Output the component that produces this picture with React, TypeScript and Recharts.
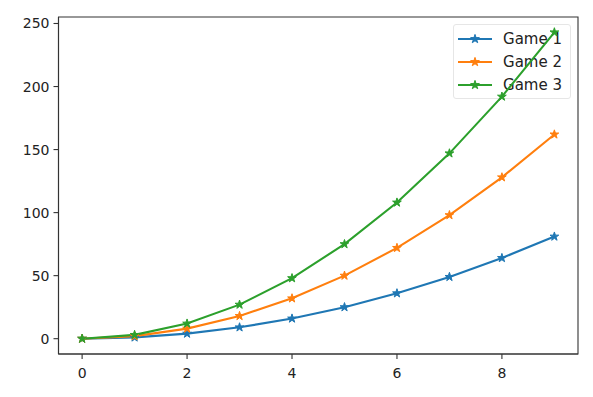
import React from 'react';
import { LineChart, Line, XAxis, YAxis, ReferenceArea } from 'recharts';

const xValues = [0, 1, 2, 3, 4, 5, 6, 7, 8, 9];
const game1 = [0, 1, 4, 9, 16, 25, 36, 49, 64, 81];
const game2 = [0, 2, 8, 18, 32, 50, 72, 98, 128, 162];
const game3 = [0, 3, 12, 27, 48, 75, 108, 147, 192, 243];

const xTicks = [0, 2, 4, 6, 8];
const yTicks = [0, 50, 100, 150, 200, 250];

const SERIES = [
  { key: 'g1', name: 'Game 1', color: '#1f77b4' },
  { key: 'g2', name: 'Game 2', color: '#ff7f0e' },
  { key: 'g3', name: 'Game 3', color: '#2ca02c' },
];

const data = xValues.map((x, i) => ({ x, g1: game1[i], g2: game2[i], g3: game3[i] }));

const X_DOMAIN: [number, number] = [-0.45, 9.45];
const Y_DOMAIN: [number, number] = [-12.15, 255.15];

const FONT = '"DejaVu Sans", sans-serif';
const AXIS = '#333';

function starPoints(cx: number, cy: number, r: number) {
  const inner = r * 0.381966;
  const pts: string[] = [];
  for (let i = 0; i < 10; i++) {
    const rad = i % 2 === 0 ? r : inner;
    const a = -Math.PI / 2 + (i * Math.PI) / 5;
    pts.push(`${cx + rad * Math.cos(a)},${cy + rad * Math.sin(a)}`);
  }
  return pts.join(' ');
}

function Star({ cx, cy, color }: { cx: number; cy: number; color: string }) {
  return <polygon points={starPoints(cx, cy, 4.6)} fill={color} stroke={color} strokeWidth={1} />;
}

// legend sits under the svg so the lines run over it, like in the original
function LegendBox() {
  return (
    <div
      style={{
        position: 'absolute',
        top: 24,
        right: 22,
        border: '1px solid #e6e6e6',
        borderRadius: 3,
        background: '#fff',
        padding: '2px 8px 2px 4px',
        fontFamily: FONT,
        fontSize: 15,
        color: '#222',
      }}
    >
      {SERIES.map((s) => (
        <div key={s.key} style={{ display: 'flex', alignItems: 'center', height: 23 }}>
          <svg width={34} height={12} style={{ marginRight: 11 }}>
            <line x1={0} y1={6} x2={34} y2={6} stroke={s.color} strokeWidth={2.1} />
            <Star cx={17} cy={6} color={s.color} />
          </svg>
          <span>{s.name}</span>
        </div>
      ))}
    </div>
  );
}

export default function App() {
  return (
    <div style={{ position: 'absolute', left: 0, top: 0, width: 593, height: 397, background: '#fff' }}>
      <LegendBox />
      <div style={{ position: 'absolute', left: 0, top: 0 }}>
        <LineChart width={593} height={397} data={data} margin={{ top: 17, right: 15, bottom: 0, left: 0 }}>
          <XAxis
            dataKey="x"
            type="number"
            domain={X_DOMAIN}
            ticks={xTicks}
            allowDataOverflow
            height={43}
            tickSize={5}
            tickMargin={9}
            axisLine={{ stroke: AXIS, strokeWidth: 1.1 }}
            tickLine={{ stroke: AXIS, strokeWidth: 1.1 }}
            tick={{ fill: '#222', fontSize: 14, fontFamily: FONT }}
          />
          <YAxis
            type="number"
            domain={Y_DOMAIN}
            ticks={yTicks}
            allowDataOverflow
            width={58.5}
            tickSize={5}
            tickMargin={4}
            axisLine={{ stroke: AXIS, strokeWidth: 1.1 }}
            tickLine={{ stroke: AXIS, strokeWidth: 1.1 }}
            tick={{ fill: '#222', fontSize: 14, fontFamily: FONT }}
          />
          {/* full frame (top and right spines) */}
          <ReferenceArea
            x1={X_DOMAIN[0]}
            x2={X_DOMAIN[1]}
            y1={Y_DOMAIN[0]}
            y2={Y_DOMAIN[1]}
            fill="none"
            stroke={AXIS}
            strokeWidth={1.1}
            ifOverflow="visible"
          />
          {SERIES.map((s) => (
            <Line
              key={s.key}
              dataKey={s.key}
              name={s.name}
              stroke={s.color}
              strokeWidth={2.1}
              isAnimationActive={false}
              dot={(p: any) => <Star key={`${s.key}-${p.index}`} cx={p.cx} cy={p.cy} color={s.color} />}
              activeDot={false}
            />
          ))}
        </LineChart>
      </div>
    </div>
  );
}
